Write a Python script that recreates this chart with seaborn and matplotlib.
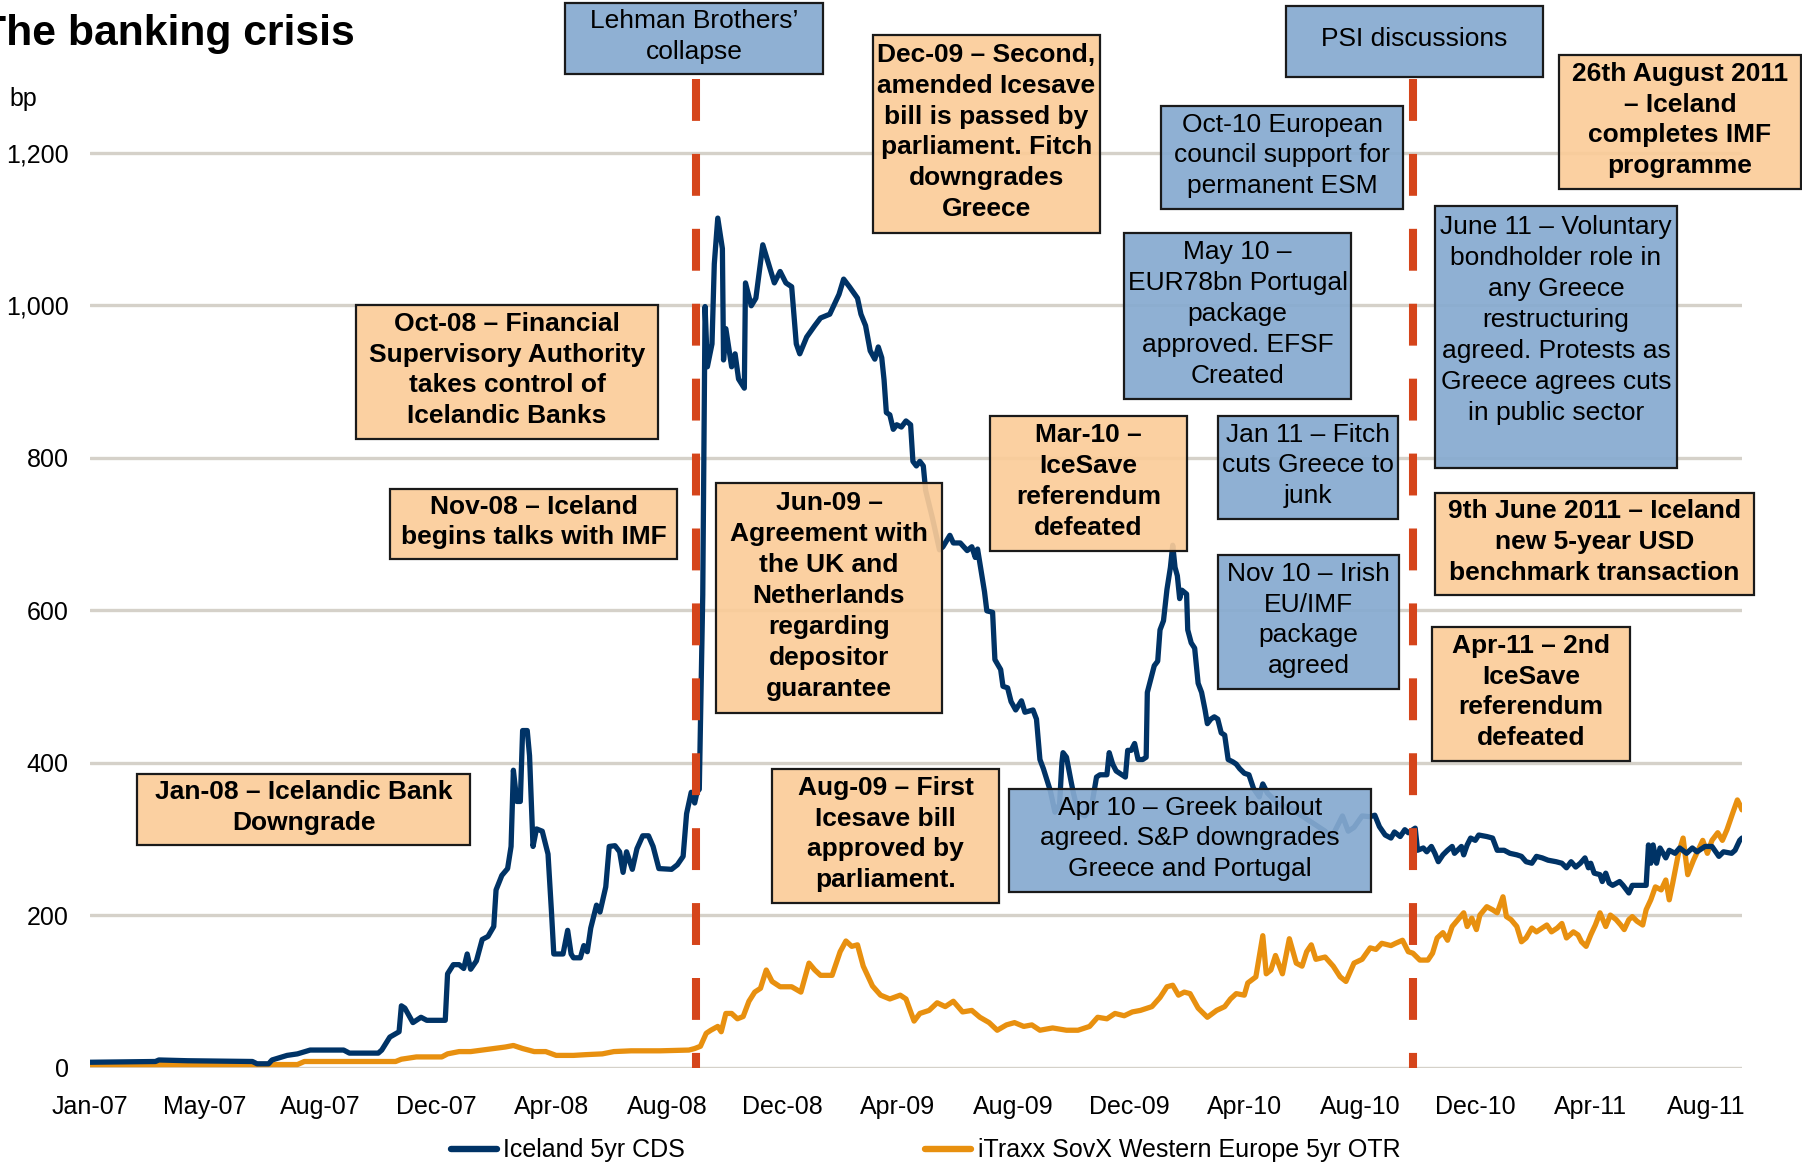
import matplotlib
matplotlib.use("Agg")
import matplotlib.pyplot as plt
from matplotlib.patches import Rectangle
import pandas as pd
import seaborn as sns

W, H = 1802, 1169

# x axis: evenly spaced category labels (Excel style), one unit per label
TICK_LABELS = ['Jan-07', 'May-07', 'Aug-07', 'Dec-07', 'Apr-08', 'Aug-08', 'Dec-08',
               'Apr-09', 'Aug-09', 'Dec-09', 'Apr-10', 'Aug-10', 'Dec-10', 'Apr-11', 'Aug-11']
Y_TICKS = [0, 200, 400, 600, 800, 1000, 1200]

# Iceland 5yr CDS (bp), x in label units
ICE_X = [0, 0.57, 0.6, 0.85, 1.41, 1.45, 1.55, 1.58, 1.71, 1.8, 1.91, 2.2, 2.25, 2.5, 2.53, 2.6,
         2.68, 2.7, 2.73, 2.8, 2.87, 2.92, 3.08, 3.1, 3.15, 3.2, 3.24, 3.27, 3.3, 3.35, 3.4, 3.45,
         3.5, 3.52, 3.57, 3.62, 3.65, 3.67, 3.7, 3.73, 3.75, 3.79, 3.81, 3.84, 3.87, 3.92, 3.97,
         4.0, 4.02, 4.1, 4.14, 4.17, 4.19, 4.25, 4.28, 4.31, 4.34, 4.39, 4.42, 4.47, 4.5, 4.55,
         4.59, 4.62, 4.65, 4.7, 4.74, 4.79, 4.84, 4.88, 4.93, 5.04, 5.09, 5.14, 5.17, 5.21, 5.24,
         5.26, 5.28, 5.31, 5.33, 5.35, 5.39, 5.41, 5.44, 5.48, 5.49, 5.51, 5.56, 5.59, 5.62, 5.67,
         5.68, 5.73, 5.77, 5.83, 5.88, 5.93, 5.98, 6.03, 6.08, 6.12, 6.15, 6.21, 6.28, 6.33, 6.41,
         6.49, 6.53, 6.58, 6.65, 6.68, 6.72, 6.76, 6.8, 6.83, 6.86, 6.88, 6.9, 6.93, 6.96, 6.99,
         7.03, 7.07, 7.11, 7.13, 7.16, 7.19, 7.22, 7.24, 7.3, 7.36, 7.39, 7.45, 7.48, 7.54, 7.6,
         7.64, 7.67, 7.69, 7.75, 7.77, 7.82, 7.84, 7.89, 7.91, 7.95, 7.98, 8.02, 8.07, 8.1, 8.17,
         8.2, 8.23, 8.26, 8.32, 8.36, 8.4, 8.42, 8.43, 8.46, 8.5, 8.52, 8.56, 8.62, 8.68, 8.72,
         8.75, 8.81, 8.83, 8.86, 8.89, 8.94, 8.97, 8.99, 9.02, 9.05, 9.08, 9.12, 9.15, 9.16, 9.2,
         9.22, 9.25, 9.27, 9.3, 9.33, 9.36, 9.38, 9.4, 9.42, 9.44, 9.46, 9.5, 9.51, 9.54, 9.57,
         9.6, 9.63, 9.66, 9.68, 9.71, 9.74, 9.77, 9.8, 9.83, 9.86, 9.9, 9.93, 9.96, 10.0, 10.04,
         10.08, 10.13, 10.16, 10.2, 10.3, 10.4, 10.5, 10.6, 10.7, 10.75, 10.8, 10.85, 10.9, 10.95,
         11.02, 11.09, 11.13, 11.17, 11.22, 11.27, 11.3, 11.35, 11.39, 11.42, 11.48, 11.5, 11.55,
         11.58, 11.62, 11.65, 11.68, 11.72, 11.76, 11.8, 11.82, 11.88, 11.9, 11.93, 11.96, 12.0,
         12.03, 12.1, 12.15, 12.19, 12.25, 12.3, 12.36, 12.4, 12.44, 12.49, 12.53, 12.58, 12.63,
         12.7, 12.75, 12.79, 12.83, 12.87, 12.91, 12.95, 12.98, 13.0, 13.03, 13.08, 13.1, 13.13,
         13.16, 13.19, 13.25, 13.28, 13.33, 13.36, 13.42, 13.48, 13.5, 13.52, 13.54, 13.57, 13.6,
         13.65, 13.68, 13.73, 13.77, 13.83, 13.88, 13.92, 13.99, 14.05, 14.11, 14.15, 14.22,
         14.25, 14.29, 14.31]
ICE_BP = [7, 8, 10, 9, 8, 5, 5, 10, 16, 18, 23, 23, 19, 19, 23, 40,
          47, 81, 78, 59, 66, 62, 62, 123, 135, 135, 130, 149, 129, 140, 168, 172,
          185, 233, 252, 261, 290, 390, 349, 349, 442, 442, 409, 290, 313, 310, 280,
          204, 149, 149, 180, 149, 144, 144, 160, 152, 183, 213, 204, 237, 290, 291,
          283, 256, 283, 260, 287, 304, 304, 290, 261, 260, 266, 277, 333, 361, 347,
          361, 365, 620, 998, 919, 949, 1054, 1114, 1074, 928, 969, 919, 936, 903, 891,
          1029, 999, 1009, 1079, 1054, 1029, 1044, 1029, 1024, 949, 936, 958, 973, 983, 988,
          1014, 1034, 1024, 1009, 988, 973, 940, 929, 945, 931, 902, 859, 856, 837, 843,
          840, 848, 843, 795, 789, 795, 789, 757, 720, 679, 683, 698, 688, 688, 678,
          683, 669, 680, 624, 599, 597, 535, 522, 500, 498, 480, 469, 481, 466, 469,
          457, 404, 392, 363, 335, 345, 400, 413, 407, 375, 360, 335, 330, 345, 381,
          384, 384, 413, 398, 389, 384, 381, 416, 416, 425, 404, 404, 407, 492, 515,
          527, 533, 574, 586, 627, 656, 685, 656, 645, 615, 626, 621, 574, 557, 550,
          504, 492, 469, 451, 457, 460, 457, 439, 436, 404, 401, 398, 392, 386, 384,
          366, 355, 372, 360, 345, 340, 330, 320, 310, 300, 315, 330, 310, 315,
          330, 329, 331, 316, 305, 301, 309, 303, 312, 308, 314, 285, 288,
          283, 290, 281, 270, 279, 285, 290, 281, 290, 279, 292, 301, 298,
          305, 303, 301, 285, 285, 281, 279, 277, 270, 268, 277, 275, 272,
          270, 268, 262, 270, 263, 268, 275, 262, 268, 255, 253, 244, 255,
          242, 239, 244, 239, 229, 239, 239, 239, 292, 268, 292, 268, 288,
          275, 285, 281, 288, 281, 288, 283, 290, 290, 277, 283, 281,
          285, 298, 301]

# iTraxx SovX Western Europe 5yr OTR (bp)
ITX_X = [0, 1.8, 1.86, 2.65, 2.7, 2.83, 3.05, 3.1, 3.2, 3.3, 3.4, 3.6, 3.67, 3.75, 3.85, 3.95,
         4.04, 4.19, 4.3, 4.44, 4.54, 4.69, 4.94, 5.19, 5.24, 5.29, 5.34, 5.38, 5.44, 5.47, 5.51,
         5.56, 5.61, 5.66, 5.71, 5.76, 5.81, 5.86, 5.91, 5.98, 6.08, 6.16, 6.23, 6.28, 6.33, 6.43,
         6.5, 6.55, 6.6, 6.65, 6.7, 6.78, 6.85, 6.93, 7.02, 7.07, 7.14, 7.19, 7.27, 7.34, 7.41,
         7.48, 7.56, 7.64, 7.71, 7.79, 7.86, 7.94, 8.01, 8.09, 8.16, 8.23, 8.34, 8.46, 8.56, 8.66,
         8.73, 8.81, 8.88, 8.96, 9.03, 9.1, 9.2, 9.27, 9.33, 9.38, 9.43, 9.48, 9.53, 9.6, 9.68,
         9.76, 9.83, 9.88, 9.93, 10.0, 10.03, 10.1, 10.16, 10.19, 10.23, 10.27, 10.33, 10.39,
         10.45, 10.5, 10.54, 10.58, 10.62, 10.7, 10.77, 10.83, 10.88, 10.95, 11.02, 11.09, 11.14,
         11.19, 11.27, 11.31, 11.37, 11.42, 11.46, 11.52, 11.59, 11.63, 11.67, 11.72, 11.76, 11.8,
         11.85, 11.9, 11.93, 11.97, 12.01, 12.04, 12.1, 12.15, 12.19, 12.24, 12.27, 12.31, 12.36,
         12.4, 12.44, 12.49, 12.53, 12.58, 12.62, 12.66, 12.71, 12.75, 12.79, 12.85, 12.89, 12.92,
         12.96, 13.0, 13.04, 13.08, 13.13, 13.17, 13.22, 13.26, 13.29, 13.33, 13.36, 13.4, 13.45,
         13.48, 13.52, 13.56, 13.61, 13.65, 13.68, 13.71, 13.76, 13.8, 13.84, 13.89, 13.93, 13.97,
         14.01, 14.05, 14.1, 14.14, 14.18, 14.23, 14.27, 14.29, 14.31]
ITX_BP = [4, 4, 8, 8, 11, 14, 14, 18, 21, 21, 23, 27, 29, 25, 21, 21,
          16, 16, 17, 18, 21, 22, 22, 23, 25, 28, 45, 49, 54, 47, 71,
          71, 64, 67, 87, 99, 104, 128, 113, 106, 106, 99, 137, 128, 121, 121,
          152, 166, 159, 161, 133, 107, 95, 90, 95, 90, 61, 71, 75, 85, 80,
          87, 73, 75, 66, 59, 49, 56, 59, 54, 56, 49, 52, 49, 49, 54,
          66, 64, 71, 68, 73, 75, 80, 92, 106, 108, 95, 99, 97, 78, 66,
          75, 80, 90, 97, 95, 111, 119, 173, 123, 128, 147, 123, 169,
          137, 133, 152, 161, 142, 145, 133, 119, 113, 137, 142, 157, 155,
          163, 160, 163, 167, 152, 150, 141, 141, 150, 170, 177, 167, 185,
          194, 203, 185, 196, 181, 200, 211, 207, 203, 224, 198, 194, 185,
          165, 170, 183, 178, 183, 187, 178, 183, 189, 170, 178, 174, 165,
          159, 174, 187, 203, 185, 200, 194, 187, 181, 194, 198, 192, 187,
          207, 220, 237, 233, 246, 220, 242, 281, 301, 253, 272, 285, 298,
          281, 298, 308, 298, 312, 334, 351, 345, 338]

EVENT_X = [5.25, 11.46]   # Lehman collapse, PSI discussions

NAVY = '#003366'
ORANGE = '#E8900F'
RED = '#D5451B'
GRID = '#D5D1C9'
BOX_ORANGE = (0.984, 0.800, 0.600, 0.92)
BOX_BLUE = (0.525, 0.667, 0.816, 0.92)

# annotation boxes: text, colour, pixel box (x0, y0, x1, y1), text shift
NOTES = [
    ("Lehman Brothers\u2019\ncollapse", 'blue', (565, 3, 823, 74), 0),
    ("Dec-09 \u2013 Second,\namended Icesave\nbill is passed by\nparliament. Fitch\ndowngrades\nGreece",
     'orange', (873, 35, 1100, 233), 0),
    ("PSI discussions", 'blue', (1286, 6, 1543, 77), 0),
    ("26th August 2011\n\u2013 Iceland\ncompletes IMF\nprogramme", 'orange', (1559, 55, 1801, 189), 0),
    ("Oct-10 European\ncouncil support for\npermanent ESM", 'blue', (1161, 106, 1403, 209), 0),
    ("May 10 \u2013\nEUR78bn Portugal\npackage\napproved. EFSF\nCreated", 'blue', (1124, 233, 1351, 399), 0),
    ("June 11 \u2013 Voluntary\nbondholder role in\nany Greece\nrestructuring\nagreed. Protests as\n"
     "Greece agrees cuts\nin public sector", 'blue', (1435, 206, 1677, 468), -15),
    ("Mar-10 \u2013\nIceSave\nreferendum\ndefeated", 'orange', (990, 416, 1187, 551), 0),
    ("Jan 11 \u2013 Fitch\ncuts Greece to\njunk", 'blue', (1218, 416, 1398, 519), 0),
    ("9th June 2011 \u2013 Iceland\nnew 5-year USD\nbenchmark transaction", 'orange', (1435, 493, 1754, 595), 0),
    ("Nov 10 \u2013 Irish\nEU/IMF\npackage\nagreed", 'blue', (1218, 555, 1399, 689), 0),
    ("Apr-11 \u2013 2nd\nIceSave\nreferendum\ndefeated", 'orange', (1432, 627, 1630, 761), 0),
    ("Apr 10 \u2013 Greek bailout\nagreed. S&P downgrades\nGreece and Portugal", 'blue', (1009, 789, 1371, 892), 0),
    ("Aug-09 \u2013 First\nIcesave bill\napproved by\nparliament.", 'orange', (772, 769, 999, 903), 0),
    ("Jan-08 \u2013 Icelandic Bank\nDowngrade", 'orange', (137, 774, 470, 845), 0),
    ("Oct-08 \u2013 Financial\nSupervisory Authority\ntakes control of\nIcelandic Banks",
     'orange', (356, 305, 658, 439), 0),
    ("Nov-08 \u2013 Iceland\nbegins talks with IMF", 'orange', (390, 489, 677, 559), 0),
    ("Jun-09 \u2013\nAgreement with\nthe UK and\nNetherlands\nregarding\ndepositor\nguarantee",
     'orange', (716, 483, 942, 713), 0),
]

sns.set_style("white")
plt.rcParams['font.family'] = ['Liberation Sans', 'DejaVu Sans']
plt.rcParams['text.color'] = 'black'

fig = plt.figure(figsize=(W / 100, H / 100), dpi=100)
ax = fig.add_axes([89.6 / W, 1 - 1067.6 / H, (1742 - 89.6) / W, 1067.6 / H])

ice = pd.DataFrame({'x': ICE_X, 'bp': ICE_BP})
itx = pd.DataFrame({'x': ITX_X, 'bp': ITX_BP})
sns.lineplot(data=ice, x='x', y='bp', color=NAVY, lw=3.8, label='Iceland 5yr CDS', ax=ax, zorder=3)
sns.lineplot(data=itx, x='x', y='bp', color=ORANGE, lw=3.8,
             label='iTraxx SovX Western Europe 5yr OTR', ax=ax, zorder=2)

for ex in EVENT_X:
    ax.plot([ex, ex], [1296, 0], color=RED, lw=5.8, dashes=(5.2, 4.1), zorder=4)

ax.set_xlim(0, 14.31)
ax.set_ylim(0, 1400)
ax.set_xticks(range(len(TICK_LABELS)))
ax.set_xticklabels(TICK_LABELS)
ax.set_yticks(Y_TICKS)
ax.set_yticklabels([f"{v:,}" for v in Y_TICKS])
ax.yaxis.grid(True, color=GRID, lw=2.4, zorder=0)
ax.xaxis.grid(False)
ax.set_axisbelow(True)
ax.tick_params(axis='both', length=0, labelsize=18, colors='black')
ax.tick_params(axis='x', pad=19.7)
ax.tick_params(axis='y', pad=15)
ax.set_xlabel('')
ax.set_ylabel('')
sns.despine(ax=ax, left=True, bottom=True)

leg = ax.legend(loc='center', bbox_to_anchor=(0.5136, 0.016), bbox_transform=fig.transFigure,
                ncol=2, frameon=False, fontsize=18, handlelength=1.85, handletextpad=0.25,
                columnspacing=9.6)
for line in leg.get_lines():
    line.set_linewidth(4.6)

for text, kind, (x0, y0, x1, y1), dy in NOTES:
    fc = BOX_ORANGE if kind == 'orange' else BOX_BLUE
    fig.patches.append(Rectangle((x0 / W, 1 - y1 / H), (x1 - x0) / W, (y1 - y0) / H,
                                 transform=fig.transFigure, facecolor=fc,
                                 edgecolor='#1a1a1a', lw=1.6, zorder=5))
    fig.text((x0 + x1) / 2 / W, 1 - ((y0 + y1) / 2 - 2 + dy) / H, text,
             ha='center', va='center', ma='center', fontsize=19, linespacing=1.36,
             fontweight='bold' if kind == 'orange' else 'normal', zorder=6)

fig.text(-20 / W, 1 - 45 / H, "The banking crisis", fontsize=30.7, fontweight='bold',
         va='baseline', ha='left')
fig.text(9 / W, 1 - 99 / H, "bp", fontsize=18, va='center', ha='left')

fig.savefig('out.png', dpi=100)
